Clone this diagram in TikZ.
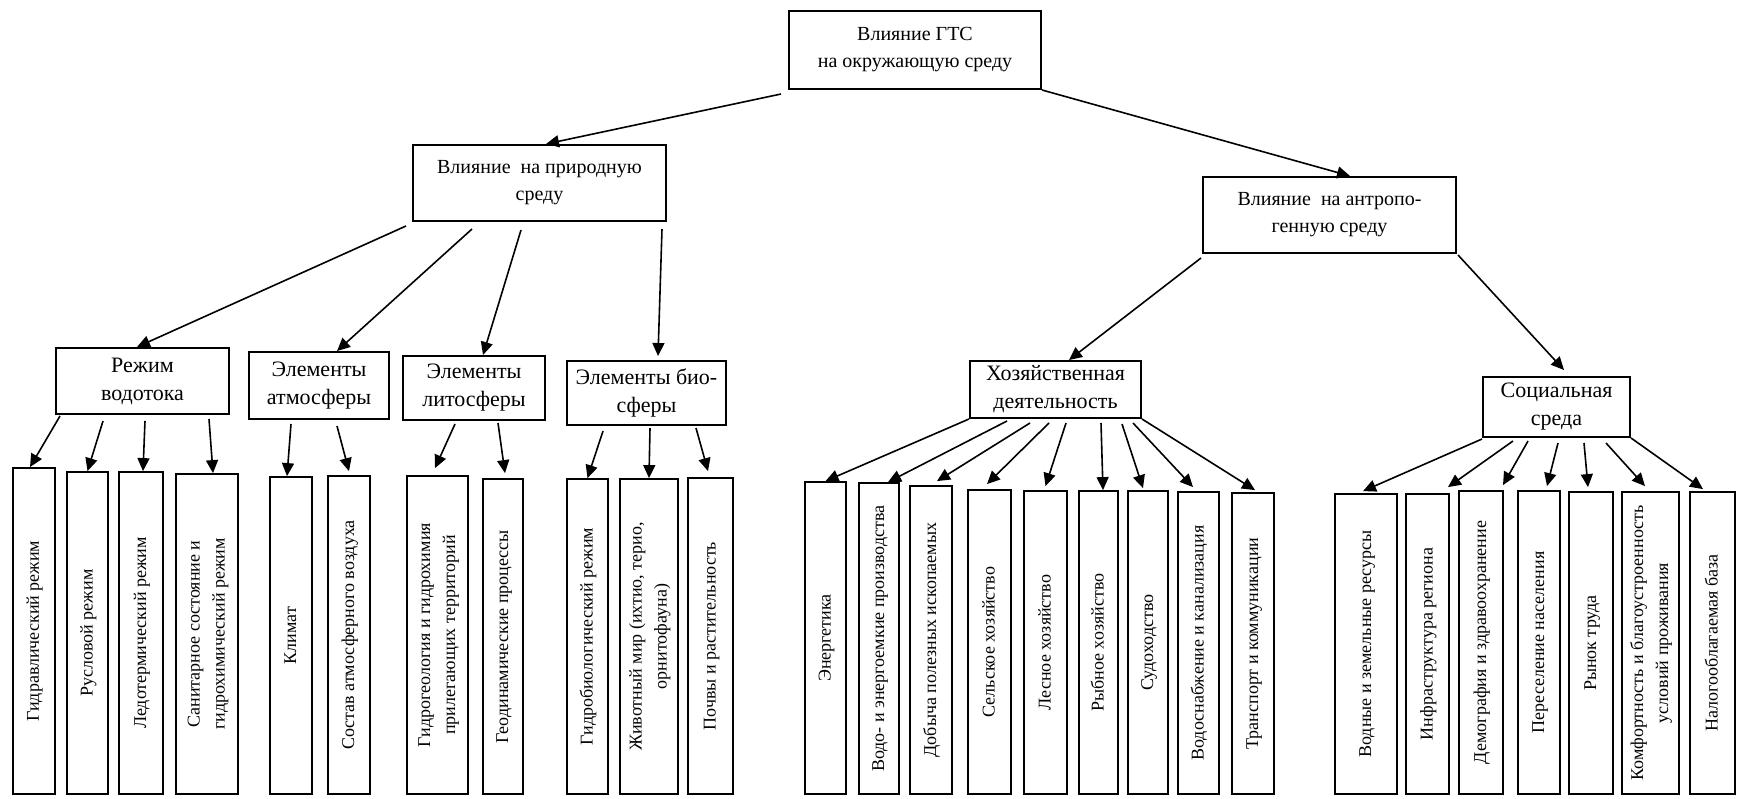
\documentclass[tikz,border=0pt]{standalone}
\usepackage{fontspec}
\setmainfont{Liberation Serif}
\usepackage{graphicx}
\usetikzlibrary{arrows.meta}

\newcommand{\vtext}[1]{\rotatebox{90}{\begin{tabular}{@{}c@{}}#1\end{tabular}}}

\begin{document}
\begin{tikzpicture}[x=1pt,y=-1pt,
    box/.style={draw,line width=2pt,align=center,inner sep=0pt},
    head/.style={box,font=\fontsize{20}{27}\selectfont},
    group/.style={box,font=\fontsize{22}{28}\selectfont},
    leaf/.style={draw,line width=1.9pt,inner sep=0pt,anchor=south,font=\fontsize{18}{25}\selectfont},
    stream/.style={-{Triangle[length=13pt,width=12pt]},line width=1.6pt}]
    \useasboundingbox (0,0) rectangle (1737,798);

    % GTS
    \node[head,minimum width=252,minimum height=78] (gts) at (915,50) {Влияние ГТС\\на окружающую среду};
    \node[head,minimum width=253,minimum height=76] (nat) at (539.5,183) {Влияние\ \ на природную\\среду};
    \node[head,minimum width=253,minimum height=76] (ant) at (1329.5,215) {Влияние\ \ на антропо-\\генную среду};
    \draw[stream] ([xshift=-7pt,yshift=-4pt]gts.south west) -- ([xshift=6.5pt]nat.north);
    \draw[stream] (gts.south east) -- ([xshift=20.5pt]ant.north);

    % natural
    \node[group,minimum width=173,minimum height=66] (vod) at (142.5,381) {Режим\\водотока};
    \node[group,minimum width=140,minimum height=67] (atm) at (319,385.5) {Элементы\\атмосферы};
    \node[group,minimum width=142,minimum height=64] (lit) at (474,388) {Элементы\\литосферы};
    \node[group,minimum width=159,minimum height=64] (bio) at (646.5,393) {Элементы био-\\сферы};
    \draw[stream] ([xshift=-133.5pt,yshift=-4pt]nat.south) -- ([xshift=-5.5pt]vod.north);
    \draw[stream] ([xshift=-67.5pt,yshift=-7pt]nat.south) -- ([xshift=18pt]atm.north);
    \draw[stream] ([xshift=-18.5pt,yshift=-8pt]nat.south) -- ([xshift=9pt]lit.north);
    \draw[stream] ([xshift=122.5pt,yshift=-7pt]nat.south) -- ([xshift=11.5pt,yshift=4pt]bio.north);

    % anthropogenic
    \node[group,minimum width=171,minimum height=57] (hoz) at (1055.5,389.5) {Хозяйственная\\деятельность};
    \node[group,minimum width=147,minimum height=60] (soc) at (1556.5,407) {Социальная\\среда};
    \draw[stream] ([xshift=-1pt,yshift=-4pt]ant.south west) -- ([xshift=13.5pt]hoz.north);
    \draw[stream] ([xshift=1pt,yshift=-1pt]ant.south east) -- ([xshift=7.5pt,yshift=6pt]soc.north);

    % water regime
    \node[leaf,minimum width=42,minimum height=326] (vod1) at (34,795) {\vtext{Гидравлический режим}};
    \node[leaf,minimum width=41,minimum height=322] (vod2) at (87.5,795) {\vtext{Русловой режим}};
    \node[leaf,minimum width=44,minimum height=322] (vod3) at (141,795) {\vtext{Ледотермический режим}};
    \node[leaf,minimum width=62,minimum height=320] (vod4) at (207,795) {\vtext{Санитарное состояние и\\гидрохимический режим}};
    \draw[stream] ([xshift=-82.5pt,yshift=-1pt]vod.south) -- ([xshift=-4pt]vod1.north);
    \draw[stream] ([xshift=-39.5pt,yshift=-6pt]vod.south) -- (vod2.north);
    \draw[stream] ([xshift=2.5pt,yshift=-6pt]vod.south) -- ([xshift=2pt]vod3.north);
    \draw[stream] ([xshift=66.5pt,yshift=-4pt]vod.south) -- ([xshift=6pt]vod4.north);

    % atmosphere
    \node[leaf,minimum width=42,minimum height=317] (atm1) at (291,795) {\vtext{Климат}};
    \node[leaf,minimum width=42,minimum height=318] (atm2) at (349,795) {\vtext{Состав атмосферного воздуха}};
    \draw[stream] ([xshift=-28pt,yshift=-4pt]atm.south) -- ([xshift=-4pt]atm1.north);
    \draw[stream] ([xshift=18pt,yshift=-6pt]atm.south) -- ([yshift=4pt]atm2.north);

    % lithosphere
    \node[leaf,minimum width=61,minimum height=318] (lit1) at (437.5,795) {\vtext{Гидрогеология и гидрохимия\\прилегающих территорий}};
    \node[leaf,minimum width=40,minimum height=315] (lit2) at (503,795) {\vtext{Геодинамические процессы}};
    \draw[stream] ([xshift=-19pt,yshift=-3pt]lit.south) -- ([xshift=-2.5pt,yshift=7pt]lit1.north);
    \draw[stream] ([xshift=24pt,yshift=-2pt]lit.south) -- ([xshift=2pt,yshift=5pt]lit2.north);

    % biosphere
    \node[leaf,minimum width=41,minimum height=315] (bio1) at (587.5,795) {\vtext{Гидробиологический режим}};
    \node[leaf,minimum width=58,minimum height=315] (bio2) at (649,795) {\vtext{Животный мир (ихтио, терио,\\орнитофауна)}};
    \node[leaf,minimum width=45,minimum height=316] (bio3) at (710.5,795) {\vtext{Почвы и растительность}};
    \draw[stream] ([xshift=-43.5pt,yshift=-5pt]bio.south) -- (bio1.north);
    \draw[stream] ([xshift=3.5pt,yshift=-2pt]bio.south) -- (bio2.north);
    \draw[stream] ([xshift=49.5pt,yshift=-2pt]bio.south) -- ([xshift=-2.5pt,yshift=6pt]bio3.north);

    % economy
    \node[leaf,minimum width=41,minimum height=312] (hoz1) at (825.5,795) {\vtext{Энергетика}};
    \node[leaf,minimum width=40,minimum height=311] (hoz2) at (879,795) {\vtext{Водо- и энергоемкие производства}};
    \node[leaf,minimum width=42,minimum height=308] (hoz3) at (931,795) {\vtext{Добыча полезных ископаемых}};
    \node[leaf,minimum width=43,minimum height=304] (hoz4) at (989.5,795) {\vtext{Сельское хозяйство}};
    \node[leaf,minimum width=43,minimum height=303] (hoz5) at (1045.5,795) {\vtext{Лесное хозяйство}};
    \node[leaf,minimum width=39,minimum height=303] (hoz6) at (1098.5,795) {\vtext{Рыбное хозяйство}};
    \node[leaf,minimum width=40,minimum height=303] (hoz7) at (1148,795) {\vtext{Судоходство}};
    \node[leaf,minimum width=41,minimum height=302] (hoz8) at (1198.5,795) {\vtext{Водоснабжение и канализация}};
    \node[leaf,minimum width=42,minimum height=301] (hoz9) at (1253,795) {\vtext{Транспорт и коммуникации}};
    \draw[stream] (hoz.south west) -- (hoz1.north);
    \draw[stream] ([xshift=-48.5pt,yshift=-2pt]hoz.south) -- ([xshift=9pt]hoz2.north);
    \draw[stream] ([xshift=-25.5pt,yshift=-4pt]hoz.south) -- ([xshift=6pt,yshift=4pt]hoz3.north);
    \draw[stream] ([xshift=-6.5pt,yshift=-4pt]hoz.south) -- ([xshift=-2.5pt,yshift=5pt]hoz4.north);
    \draw[stream] ([xshift=10.5pt,yshift=-4pt]hoz.south) -- ([yshift=4pt]hoz5.north);
    \draw[stream] ([xshift=45.5pt,yshift=-4pt]hoz.south) -- ([xshift=4.5pt]hoz6.north);
    \draw[stream] ([xshift=66.5pt,yshift=-5pt]hoz.south) -- ([xshift=-5pt,yshift=2pt]hoz7.north);
    \draw[stream] ([xshift=77.5pt,yshift=-4pt]hoz.south) -- ([xshift=-5.5pt,yshift=4pt]hoz8.north);
    \draw[stream] (hoz.south east) -- ([xshift=2pt,yshift=2pt]hoz9.north);

    % social
    \node[leaf,minimum width=62,minimum height=300] (soc1) at (1366,795) {\vtext{Водные и земельные ресурсы}};
    \node[leaf,minimum width=43,minimum height=300] (soc2) at (1427.5,795) {\vtext{Инфраструктура региона}};
    \node[leaf,minimum width=44,minimum height=303] (soc3) at (1481,795) {\vtext{Демография и здравоохранение}};
    \node[leaf,minimum width=42,minimum height=303] (soc4) at (1539,795) {\vtext{Переселение населения}};
    \node[leaf,minimum width=44,minimum height=302] (soc5) at (1591,795) {\vtext{Рынок труда}};
    \node[leaf,minimum width=57,minimum height=302] (soc6) at (1650.5,795) {\vtext{Комфортность и благоустроенность\\условий проживания}};
    \node[leaf,minimum width=45,minimum height=302] (soc7) at (1712.5,795) {\vtext{Налогооблагаемая база}};
    \draw[stream] ([yshift=-1pt]soc.south west) -- ([xshift=-3pt,yshift=2pt]soc1.north);
    \draw[stream] ([xshift=-43.5pt,yshift=-3pt]soc.south) -- ([xshift=20.5pt,yshift=6pt]soc2.north);
    \draw[stream] ([xshift=-28.5pt,yshift=-3pt]soc.south) -- ([xshift=22pt,yshift=5pt]soc3.north);
    \draw[stream] ([xshift=1.5pt,yshift=-5pt]soc.south) -- ([xshift=8pt,yshift=4pt]soc4.north);
    \draw[stream] ([xshift=27.5pt,yshift=-5pt]soc.south) -- ([xshift=-3pt,yshift=4pt]soc5.north);
    \draw[stream] ([xshift=49.5pt,yshift=-5pt]soc.south) -- ([xshift=-5.5pt,yshift=5pt]soc6.north);
    \draw[stream] (soc.south east) -- ([xshift=-9.5pt,yshift=2pt]soc7.north);
\end{tikzpicture}
\end{document}
